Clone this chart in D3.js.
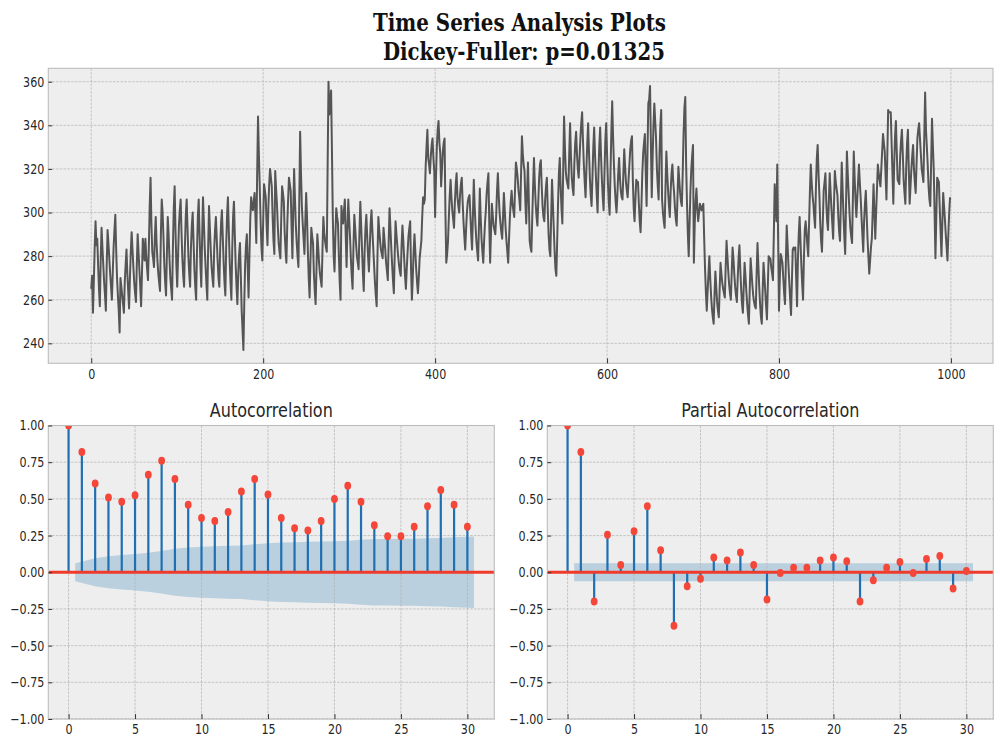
<!DOCTYPE html>
<html><head><meta charset="utf-8">
<script src="https://cdn.jsdelivr.net/npm/d3@7"></script>
<style>body{margin:0;background:#fff;} svg{display:block;}</style>
</head><body><svg id="chart" width="1000" height="750"></svg>
<script>
// ---------------- data ----------------
const seriesValues = [
265,271,254,268,284,296,285,288,276,265,
257,278,293,284,276,268,262,255,276,292,
286,279,272,266,260,272,284,292,299,283,
270,262,255,245,270,266,262,258,254,268,
276,283,272,264,256,270,282,291,283,275,
268,263,259,276,290,282,274,266,257,272,
288,283,278,288,280,274,269,284,303,316,
295,282,279,275,289,298,286,278,272,268,
264,290,306,300,289,276,268,262,281,298,
290,279,270,265,260,284,302,312,292,276,
266,280,294,301,306,291,279,271,266,285,
299,306,293,280,272,266,284,294,300,287,
274,266,260,282,298,306,290,276,266,289,
307,296,284,275,267,260,284,303,293,283,
275,270,266,283,292,298,288,278,270,266,
284,295,301,289,277,268,262,285,299,307,
292,278,268,260,283,298,305,290,276,266,
258,272,281,286,271,255,246,237,258,276,
285,290,275,261,280,297,307,303,301,305,
309,298,286,318,344,327,312,296,284,278,
296,313,310,307,294,285,302,313,320,316,
312,298,287,281,319,311,304,294,286,282,
279,297,312,309,305,291,283,277,294,306,
316,313,310,294,279,301,320,306,294,286,
280,275,306,337,318,303,295,288,281,296,
309,298,282,270,261,278,293,289,286,272,
264,258,274,290,284,277,272,269,266,283,
298,291,287,284,282,322,360,345,350,356,
328,298,280,273,289,302,298,295,281,268,
260,303,298,295,301,306,290,275,292,306,
297,289,279,271,265,284,299,293,286,280,
277,274,291,305,294,283,272,264,282,293,
299,289,280,273,284,295,301,292,284,276,
268,262,257,281,298,292,287,283,281,279,
293,288,283,277,273,269,287,302,293,284,
276,269,263,281,296,290,285,280,276,273,
271,285,294,287,279,271,265,274,282,289,
293,296,274,260,270,282,290,282,274,268,
263,270,279,283,287,298,307,304,306,321,
330,338,325,322,318,326,331,334,325,319,
298,316,330,338,342,332,327,312,320,328,
332,334,300,277,281,287,298,308,315,307,
301,297,293,305,313,318,307,303,300,308,
313,316,305,296,289,283,292,300,305,307,
308,299,290,283,299,315,303,294,287,282,
278,294,311,298,288,282,277,287,295,301,
309,314,318,295,277,291,304,299,294,292,
290,298,310,318,308,300,295,291,288,298,
309,301,293,287,282,277,288,298,305,310,
304,301,298,311,323,320,316,310,306,301,
318,335,327,322,319,305,295,310,323,306,
287,284,282,298,312,325,313,304,298,294,
305,316,322,324,312,303,298,296,306,312,
316,302,290,283,280,298,315,304,293,282,
274,271,287,304,318,325,312,302,295,320,
344,330,319,315,313,311,327,341,326,316,
311,308,323,332,337,327,320,316,325,334,
341,346,333,322,314,307,320,332,341,328,
316,308,303,316,330,339,327,317,308,300,
318,331,339,326,315,307,301,318,333,341,
327,314,305,299,318,337,351,335,322,312,
305,300,308,318,325,316,310,307,306,318,
329,321,314,310,307,315,322,329,333,335,
315,302,296,306,315,314,314,304,296,291,
303,318,327,332,336,318,303,326,350,352,
358,332,307,325,340,350,342,334,320,312,
306,326,340,347,306,300,296,293,312,328,
318,310,303,298,310,318,322,314,309,302,
297,294,308,321,315,309,305,303,318,336,
348,353,322,304,290,280,295,310,320,326,
331,277,295,305,311,302,296,300,304,302,
301,303,304,288,274,263,255,264,272,280,
270,262,256,252,249,262,273,266,259,255,
252,265,277,272,268,265,263,261,275,287,
280,273,267,263,260,272,284,279,272,266,
262,259,270,279,285,274,265,258,254,266,
277,271,264,258,253,249,265,279,273,267,
262,259,257,256,272,286,276,266,258,252,
249,264,277,271,264,257,251,266,280,279,
279,275,272,269,290,313,304,296,322,288,
255,270,281,279,277,270,263,258,277,294,
285,276,268,260,253,268,283,284,283,284,
270,257,278,290,298,287,276,267,260,279,
292,296,291,285,280,295,310,322,314,308,
304,298,293,312,325,331,318,308,295,287,
282,296,310,314,318,305,296,292,305,318,
310,302,295,288,304,319,314,311,308,298,
291,287,305,323,311,299,289,281,304,328,
318,309,300,293,289,286,307,328,316,306,
298,306,314,322,314,307,298,290,282,296,
304,310,299,288,280,272,278,284,288,300,
313,300,288,300,311,322,318,315,312,320,
328,336,332,328,317,306,326,347,346,346,
346,332,318,304,322,335,342,328,315,314,
313,326,333,338,327,315,309,304,321,332,
338,320,304,312,320,326,331,320,314,309,
322,334,338,341,334,327,320,317,314,335,
355,338,330,322,312,306,303,323,343,331,
320,300,279,298,316,315,314,302,291,280,
295,309,303,297,290,284,278,290,300,307
];
const tsXTicks = [0, 200, 400, 600, 800, 1000];
const tsYTicks = [240, 260, 280, 300, 320, 340, 360];
const lagTicks = [0, 5, 10, 15, 20, 25, 30];
const corrTicks = [-1, -0.75, -0.5, -0.25, 0, 0.25, 0.5, 0.75, 1];
const acfValues = [1.0, 0.82, 0.605, 0.51, 0.48, 0.525, 0.665, 0.76, 0.635, 0.46,
  0.37, 0.35, 0.41, 0.55, 0.635, 0.53, 0.37, 0.30, 0.285, 0.35,
  0.50, 0.59, 0.48, 0.32, 0.245, 0.245, 0.31, 0.45, 0.56, 0.46, 0.31];
const pacfValues = [1.0, 0.82, -0.20, 0.255, 0.05, 0.28, 0.45, 0.15, -0.365, -0.095,
  -0.045, 0.10, 0.08, 0.135, 0.05, -0.185, -0.005, 0.03, 0.03, 0.08,
  0.10, 0.075, -0.20, -0.055, 0.03, 0.07, -0.005, 0.09, 0.11, -0.11, 0.008];
// half-width of the confidence band at lags 1..30
const acfConfHalfWidth = [0.062, 0.095, 0.109, 0.118, 0.125, 0.133, 0.145, 0.160, 0.169, 0.174,
  0.177, 0.180, 0.183, 0.190, 0.198, 0.203, 0.205, 0.207, 0.209, 0.211,
  0.215, 0.222, 0.226, 0.227, 0.228, 0.229, 0.231, 0.234, 0.239, 0.243];
const pacfConfHalfWidth = [0.062, 0.062, 0.062, 0.062, 0.062, 0.062, 0.062, 0.062, 0.062, 0.062,
  0.062, 0.062, 0.062, 0.062, 0.062, 0.062, 0.062, 0.062, 0.062, 0.062,
  0.062, 0.062, 0.062, 0.062, 0.062, 0.062, 0.062, 0.062, 0.062, 0.062];
const titleLines = ["Time Series Analysis Plots", "Dickey-Fuller: p=0.01325"];
const panelTitles = ["Autocorrelation", "Partial Autocorrelation"];

// ---------------- drawing ----------------
const SQ = 0.8; // horizontal squeeze of the text
const svg = d3.select("#chart");
const defs = svg.append("defs");
const TICK_FONT = 13.9;

function makePanel(id, left, top, width, height, xScale, yScale, xTicks, yTicks, xFmt, yFmt) {
  defs.append("clipPath").attr("id", id).append("rect").attr("width", width).attr("height", height);
  const g = svg.append("g").attr("transform", `translate(${left},${top})`);
  g.append("rect").attr("width", width).attr("height", height).attr("fill", "#eeeeee");
  const under = g.append("g").attr("clip-path", `url(#${id})`);
  const grid = g.append("g");
  grid.selectAll("line.gx").data(xTicks).join("line").attr("class", "gx")
    .attr("x1", d => xScale(d)).attr("x2", d => xScale(d)).attr("y1", 0).attr("y2", height);
  grid.selectAll("line.gy").data(yTicks).join("line").attr("class", "gy")
    .attr("y1", d => yScale(d)).attr("y2", d => yScale(d)).attr("x1", 0).attr("x2", width);
  grid.selectAll("line").attr("stroke", "#b2b2b2").attr("stroke-width", 0.7).attr("stroke-dasharray", "2.6,1.2");
  const plot = g.append("g").attr("clip-path", `url(#${id})`);
  const over = g.append("g");
  over.append("rect").attr("width", width).attr("height", height)
    .attr("fill", "none").attr("stroke", "#bcbcbc").attr("stroke-width", 1.1);
  const ax = over.append("g").attr("transform", `translate(0,${height})`)
    .call(d3.axisBottom(xScale).tickValues(xTicks).tickFormat(xFmt)
      .tickSizeInner(-4.9).tickSizeOuter(0).tickPadding(5.5));
  const ay = over.append("g")
    .call(d3.axisLeft(yScale).tickValues(yTicks).tickFormat(yFmt)
      .tickSizeInner(-3.9).tickSizeOuter(0).tickPadding(5));
  [ax, ay].forEach(a => {
    a.select(".domain").remove();
    a.attr("font-family", "DejaVu Sans").attr("font-size", TICK_FONT);
    a.selectAll("line").attr("stroke", "#333").attr("stroke-width", 1);
    a.selectAll("text").attr("fill", "#262626").attr("transform", `scale(${SQ},1)`);
  });
  return {g, under, plot};
}

// Suptitle
const tl = svg.append("g").attr("font-family", "DejaVu Serif").attr("font-weight", "bold")
  .attr("font-size", 23.5).attr("fill", "#111");
tl.append("text").attr("x", 373).attr("y", 30.5).attr("textLength", 293)
  .attr("lengthAdjust", "spacingAndGlyphs").text(titleLines[0]);
tl.append("text").attr("x", 383).attr("y", 59.5).attr("textLength", 282)
  .attr("lengthAdjust", "spacingAndGlyphs").text(titleLines[1]);

// Top: time series
{
  const L = 48.3, T = 68.3, W = 944.7, H = 295;
  const n = seriesValues.length;
  const xPad = 0.05 * (n - 1);
  const x = d3.scaleLinear().domain([-xPad, (n - 1) + xPad]).range([0, W]);
  const [mn, mx] = d3.extent(seriesValues);
  const yPad = 0.05 * (mx - mn);
  const y = d3.scaleLinear().domain([mn - yPad, mx + yPad]).range([H, 0]);
  const p = makePanel("clipTS", L, T, W, H, x, y, tsXTicks, tsYTicks, d3.format("d"), d3.format("d"));
  p.plot.append("path").datum(seriesValues)
    .attr("d", d3.line().x((d, i) => x(i)).y(d => y(d)))
    .attr("fill", "none").attr("stroke", "#555555").attr("stroke-width", 2)
    .attr("stroke-linejoin", "round");
}

function corrPanel(id, L, values, half, title) {
  const T = 425.5, W = 446, H = 293.5;
  const maxLag = values.length - 1;
  const lo = 0, hi = maxLag + 0.5;
  const pad = 0.05 * (hi - lo);
  const x = d3.scaleLinear().domain([lo - pad, hi + pad]).range([0, W]);
  const y = d3.scaleLinear().domain([-1, 1]).range([H, 0]);
  const p = makePanel(id, L, T, W, H, x, y, lagTicks, corrTicks, d3.format("d"), d3.format(".2f"));
  // confidence band (lags 1..maxLag, ends widened by 0.5)
  const band = half.map((h, i) => {
    let lag = i + 1;
    if (i === 0) lag -= 0.5;
    if (i === half.length - 1) lag += 0.5;
    return {lag, h};
  });
  p.under.append("path").datum(band)
    .attr("d", d3.area().x(d => x(d.lag)).y0(d => y(-d.h)).y1(d => y(d.h)))
    .attr("fill", "#1f77b4").attr("fill-opacity", 0.25);
  const data = values.map((v, i) => ({lag: i, v}));
  p.plot.selectAll("line.stem").data(data).join("line").attr("class", "stem")
    .attr("x1", d => x(d.lag)).attr("x2", d => x(d.lag))
    .attr("y1", y(0)).attr("y2", d => y(d.v))
    .attr("stroke", "#1f6fb2").attr("stroke-width", 2.2);
  p.plot.append("line").attr("x1", 0).attr("x2", W).attr("y1", y(0)).attr("y2", y(0))
    .attr("stroke", "#ee3b2c").attr("stroke-width", 2.8);
  p.plot.selectAll("ellipse").data(data).join("ellipse")
    .attr("cx", d => x(d.lag)).attr("cy", d => y(d.v)).attr("rx", 3.4).attr("ry", 4)
    .attr("fill", "#f4473a");
  svg.append("text").attr("transform", `translate(${L + W / 2},417) scale(${SQ},1)`)
    .attr("text-anchor", "middle").attr("font-family", "DejaVu Sans").attr("font-size", 20)
    .attr("fill", "#262626").text(title);
}
corrPanel("clipACF", 48.3, acfValues, acfConfHalfWidth, panelTitles[0]);
corrPanel("clipPACF", 547.3, pacfValues, pacfConfHalfWidth, panelTitles[1]);
</script>
</body></html>
